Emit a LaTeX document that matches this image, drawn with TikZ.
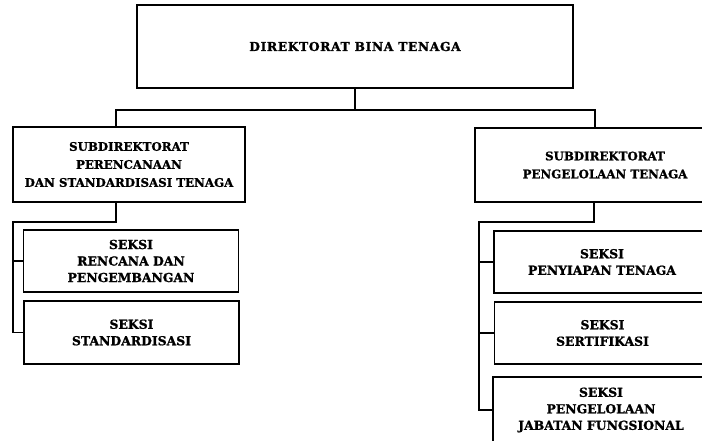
\documentclass[tikz,border=0pt]{standalone}
\usepackage{fontspec}
\setmainfont{DejaVu Serif}[BoldFeatures={FakeBold=1.2}]
\newfontfamily\wideserif{DejaVu Serif}[LetterSpace=5,BoldFeatures={FakeBold=1.2}]
\begin{document}
\begin{tikzpicture}[x=1pt,y=-1pt,
  box/.style={draw,line width=1.5pt,align=center,inner sep=0pt},
  toptext/.style={font=\wideserif\bfseries\fontsize{12.3}{15}\selectfont},
  subtext/.style={font=\bfseries\fontsize{11.8}{18}\selectfont},
  sektext/.style={font=\bfseries\fontsize{12.4}{16.5}\selectfont},
  link/.style={line width=1.5pt}]
\useasboundingbox (0,0) rectangle (702,440);
\clip (0,0) rectangle (702,440);
% director
\node[box,toptext,minimum width=436pt,minimum height=83pt] (top) at (355,46.5) {DIREKTORAT BINA TENAGA};
% sub-directorates
\node[box,subtext,minimum width=232pt,minimum height=75pt] (lsub) at (129,164.5)
  {SUBDIREKTORAT\\PERENCANAAN\\DAN STANDARDISASI TENAGA};
\node[box,subtext,minimum width=260pt,minimum height=74pt] (rsub) at (605,165)
  {SUBDIREKTORAT\\PENGELOLAAN TENAGA};
% sections, left
\node[box,sektext,minimum width=215pt,minimum height=62pt] (ls1) at (131,261)
  {SEKSI\\RENCANA DAN\\PENGEMBANGAN};
\node[box,sektext,minimum width=215pt,minimum height=63pt] (ls2) at (131.5,332.5)
  {SEKSI\\STANDARDISASI};
% sections, right
\node[box,sektext,minimum width=216pt,minimum height=62pt] (rs1) at (602,262)
  {SEKSI\\PENYIAPAN TENAGA};
\node[box,sektext,minimum width=216pt,minimum height=62pt] (rs2) at (602.5,333)
  {SEKSI\\SERTIFIKASI};
\node[box,sektext,minimum width=216pt,minimum height=66pt] (rs3) at (601,410)
  {SEKSI\\PENGELOLAAN\\JABATAN FUNGSIONAL};
% bus under the director
\coordinate (busL) at (116,110);
\coordinate (busR) at (595,110);
\draw[link] (top.south) -- (top.south |- busL);
\draw[link] (busL |- lsub.north) -- (busL) -- (busR) -- (busR |- rsub.north);
% left rail
\coordinate (lknee) at (116,222);
\coordinate (lrail) at (13,222);
\draw[link] (lknee |- lsub.south) -- (lknee) -- (lrail) -- (lrail |- ls2.west) -- (ls2.west);
\draw[link] (lrail |- ls1.west) -- (ls1.west);
% right rail
\coordinate (rknee) at (594,222);
\coordinate (rrail) at (479,222);
\draw[link] (rknee |- rsub.south) -- (rknee) -- (rrail) -- (rrail |- rs3.west) -- (rs3.west);
\draw[link] (rrail |- rs1.west) -- (rs1.west);
\draw[link] (rrail |- rs2.west) -- (rs2.west);
\end{tikzpicture}
\end{document}
